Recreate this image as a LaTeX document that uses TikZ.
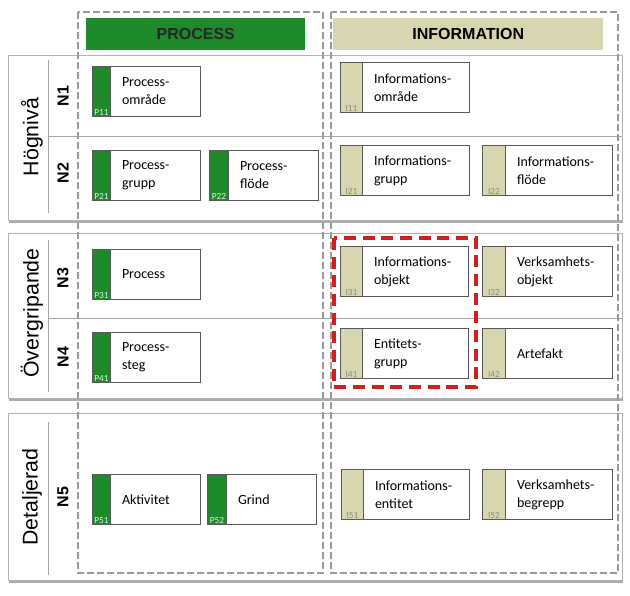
\documentclass[tikz,border=0pt]{standalone}
\usepackage{fontspec}
\setmainfont{Carlito}
\newfontfamily\arialf{Liberation Sans}
\usetikzlibrary{shadows}
\definecolor{pgreen}{RGB}{31,138,44}
\definecolor{ikhaki}{RGB}{216,214,176}
\definecolor{pidtext}{RGB}{215,245,215}
\definecolor{iidtext}{RGB}{140,140,120}
\definecolor{redbox}{RGB}{212,30,30}
\tikzset{
  band/.style={fill=white, draw=black!30, line width=0.6pt,
    drop shadow={shadow xshift=0.8pt, shadow yshift=-2pt, opacity=0.6, fill=black!55}},
  sepline/.style={draw=black!35, line width=0.7pt},
  dashcol/.style={draw=black!40, line width=1.1pt, dash pattern=on 5pt off 2.5pt},
  header/.style={anchor=north west, inner sep=0pt, font=\arialf\bfseries\fontsize{12}{14}\selectfont},
  bandlabel/.style={rotate=90, font=\arialf\fontsize{16}{18}\selectfont},
  nlabel/.style={rotate=90, font=\arialf\bfseries\fontsize{12}{14}\selectfont},
  ebox/.style={draw=black!65, fill=white, line width=0.8pt, minimum height=37.5pt, inner sep=0pt},
  pstrip/.style={draw=black!65, fill=pgreen, line width=0.8pt, minimum height=37.5pt, inner sep=0pt},
  istrip/.style={draw=black!65, fill=ikhaki, line width=0.8pt, minimum height=37.5pt, inner sep=0pt},
  pid/.style={text=pidtext, font=\fontsize{7}{8}\selectfont, inner sep=1.2pt},
  iid/.style={text=iidtext, font=\fontsize{7}{8}\selectfont, inner sep=1.2pt},
  etext/.style={font=\fontsize{10.5}{13.5}\selectfont, align=left, inner sep=0pt},
  redframe/.style={draw=redbox, line width=3pt, dash pattern=on 9pt off 5pt}
}
% #1 name, #2 x, #3 y, #4 width, #5 strip width, #6 kind (p/i), #7 id, #8 text
\newcommand\entitybox[8]{%
  \node[ebox, minimum width=#4*0.75pt, anchor=north west] (#1) at (#2,#3) {};
  \node[#6strip, minimum width=#5*0.75pt, anchor=north west] (#1s) at (#1.north west) {};
  \node[#6id, anchor=south] (#1id) at (#1s.south) {#7};
  \node[etext, anchor=west] (#1t) at ([xshift=8pt]#1s.east) {#8};
}
\begin{document}
\begin{tikzpicture}[x=0.75pt,y=-0.75pt]
\useasboundingbox (0,0) rectangle (630,595);

% bands
\path[band] (8,55) rectangle (622,220);
\path[band] (8,233) rectangle (622,398);
\path[band] (8,413) rectangle (622,580);

% inner vertical lines and separators
\draw[sepline] (48,60) -- (48,213);
\draw[sepline] (48,240) -- (48,392);
\draw[sepline] (48,422) -- (48,575);
\draw[sepline] (48,136) -- (622,136);
\draw[sepline] (48,318) -- (622,318);

% band labels
\node[bandlabel] (hog) at (32,137) {Högnivå};
\node[bandlabel] (over) at (32,313) {Övergripande};
\node[bandlabel] (det) at (32,497) {Detaljerad};
\node[nlabel] (n1) at (63,96) {N1};
\node[nlabel] (n2) at (63,173) {N2};
\node[nlabel] (n3) at (63,278) {N3};
\node[nlabel] (n4) at (63,357) {N4};
\node[nlabel] (n5) at (63,497) {N5};

% dashed columns
\draw[dashcol] (78,12) rectangle (323,573);
\draw[dashcol] (331,12) rectangle (618,573);

% headers
\node[header, fill=pgreen, text=black!85, minimum width=219*0.75pt, minimum height=32*0.75pt] (hp) at (86,18) {PROCESS};
\node[header, fill=ikhaki, text=black, minimum width=270*0.75pt, minimum height=32*0.75pt] (hi) at (333,18) {INFORMATION};

% process entities
\entitybox{p11}{92}{66}{108}{18}{p}{P11}{Process-\\område}
\entitybox{p21}{92}{150}{108}{18}{p}{P21}{Process-\\grupp}
\entitybox{p22}{209}{150}{109}{19}{p}{P22}{Process-\\flöde}
\entitybox{p31}{92}{249}{108}{18}{p}{P31}{Process}
\entitybox{p41}{92}{332}{108}{18}{p}{P41}{Process-\\steg}
\entitybox{p51}{92}{474}{108}{18}{p}{P51}{Aktivitet}
\entitybox{p52}{207}{474}{109}{19}{p}{P52}{Grind}

% information entities
\entitybox{i11}{340}{62}{129}{22}{i}{I11}{Informations-\\område}
\entitybox{i21}{340}{145}{129}{22}{i}{I21}{Informations-\\grupp}
\entitybox{i22}{482}{145}{130}{23}{i}{I22}{Informations-\\flöde}
\entitybox{i31}{340}{246}{128}{22}{i}{I31}{Informations-\\objekt}
\entitybox{i32}{482}{246}{130}{23}{i}{I32}{Verksamhets-\\objekt}
\entitybox{i41}{340}{328}{128}{22}{i}{I41}{Entitets-\\grupp}
\entitybox{i42}{482}{328}{130}{23}{i}{I42}{Artefakt}
\entitybox{i51}{341}{469}{128}{22}{i}{I51}{Informations-\\entitet}
\entitybox{i52}{482}{469}{130}{23}{i}{I52}{Verksamhets-\\begrepp}

% red highlight
\draw[redframe] (334,238) rectangle (476,387);
\end{tikzpicture}
\end{document}
